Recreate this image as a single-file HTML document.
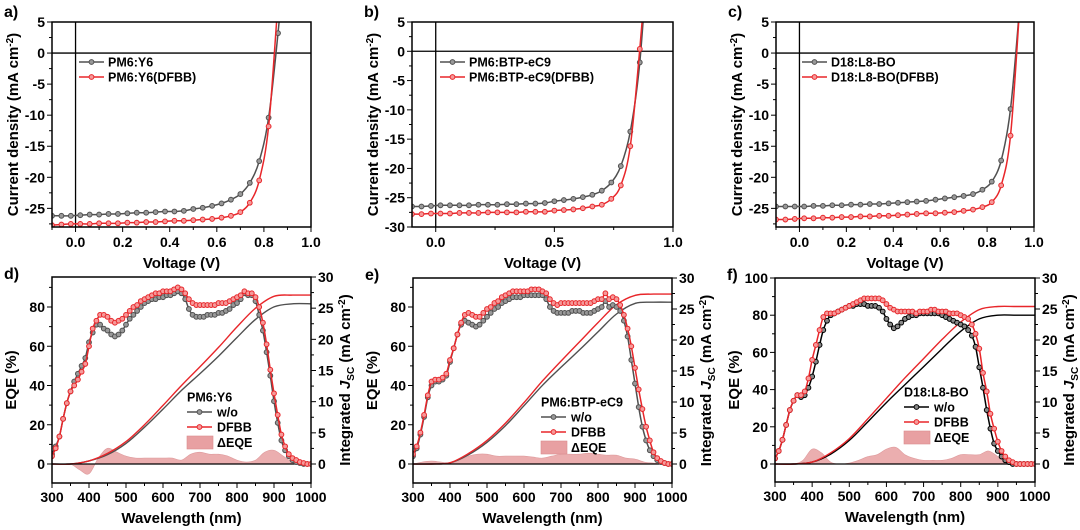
<!DOCTYPE html>
<html><head><meta charset="utf-8">
<style>
html,body{margin:0;padding:0;background:#fff;}
svg{display:block;font-family:"Liberation Sans",Arial,sans-serif;font-weight:bold;}
</style></head>
<body>
<svg id="fig" width="1080" height="530" viewBox="0 0 1080 530" xmlns="http://www.w3.org/2000/svg"></svg>
<script>
// ---------- JV data ----------
const jvV = [-0.1,-0.06,-0.02,0.02,0.06,0.10,0.14,0.18,0.22,0.26,0.30,0.34,0.38,0.42,0.46,0.50,0.54,0.58,0.62,0.66,0.70,0.74,0.78,0.82,0.86,0.90];
const jvV_c = [-0.1,-0.06,-0.02,0.02,0.06,0.10,0.14,0.18,0.22,0.26,0.30,0.34,0.38,0.42,0.46,0.50,0.54,0.58,0.62,0.66,0.70,0.74,0.78,0.82,0.86,0.90,0.94];
const jvA_ref = [-26.2,-26.2,-26.2,-26.1,-26.0,-26.0,-25.9,-25.9,-25.8,-25.7,-25.7,-25.6,-25.5,-25.5,-25.4,-25.1,-24.9,-24.6,-24.2,-23.6,-22.7,-20.9,-17.4,-10.4,3.2,20];
const jvA_dfbb = [-27.7,-27.6,-27.5,-27.5,-27.5,-27.4,-27.4,-27.4,-27.3,-27.3,-27.2,-27.2,-27.1,-27.0,-27.0,-26.9,-26.8,-26.7,-26.5,-26.2,-25.6,-24.1,-20.5,-11.8,8,25];
const jvB_ref = [-26.5,-26.5,-26.4,-26.3,-26.3,-26.3,-26.3,-26.2,-26.2,-26.2,-26.1,-26.1,-26.0,-26.0,-25.9,-25.6,-25.4,-25.2,-24.9,-24.5,-23.8,-22.4,-19.6,-13.7,-1.9,20];
const jvB_dfbb = [-27.8,-27.8,-27.7,-27.7,-27.7,-27.6,-27.6,-27.6,-27.5,-27.5,-27.5,-27.5,-27.4,-27.4,-27.4,-27.2,-27.1,-27.0,-26.8,-26.5,-26.2,-25.2,-22.9,-16.2,0.4,20];
const jvC_ref = [-24.7,-24.7,-24.7,-24.7,-24.6,-24.6,-24.5,-24.5,-24.4,-24.4,-24.3,-24.3,-24.2,-24.1,-24.0,-23.9,-23.8,-23.6,-23.4,-23.2,-23.0,-22.7,-22.0,-20.7,-17.3,-9.0,8];
const jvC_dfbb = [-26.8,-26.8,-26.7,-26.6,-26.6,-26.5,-26.5,-26.4,-26.4,-26.3,-26.3,-26.2,-26.2,-26.1,-26.0,-25.9,-25.8,-25.8,-25.7,-25.6,-25.4,-25.2,-24.8,-24.0,-21.3,-13.3,8];
// ---------- EQE data (300..1000 nm, 10 nm) ----------
const wl = [300,310,320,330,340,350,360,370,380,390,400,410,420,430,440,450,460,470,480,490,500,510,520,530,540,550,560,570,580,590,600,610,620,630,640,650,660,670,680,690,700,710,720,730,740,750,760,770,780,790,800,810,820,830,840,850,860,870,880,890,900,910,920,930,940,950,960,970,980,990,1000];
const eqeD_ref = [5,9,14,23,31,37,42,46,50,54,62,67,71,71,69,68,66,65,66,68,71,74,76,78,80,82,83,84,84,85,85,86,86,87,88,87,84,79,76,75,75,75,76,76,76,77,77,78,79,81,82,84,87,86,86,83,76,68,57,45,32,21,12,7,4,2,1,0.5,0,0,0];
const eqeD_dfbb = [4,8,14,23,31,37,40,43,47,51,60,69,73,76,76,75,73,72,73,74,76,78,80,81,83,84,85,86,87,87,88,88,88,89,90,89,87,84,82,81,81,81,81,81,81,82,82,82,83,84,85,86,88,87,87,85,80,72,61,48,36,25,15,9,5,3,2,1,0.5,0,0];
const eqeE_ref = [4,8,15,24,34,40,42,42,43,45,52,59,66,71,73,72,71,70,71,73,75,77,79,80,82,83,84,85,85,85,86,86,86,86,86,86,84,80,78,77,77,77,77,78,78,78,77,77,77,78,79,80,83,80,81,80,78,73,65,53,41,29,19,12,7,4,2,1,0.5,0,0];
const eqeE_dfbb = [5,9,16,25,35,42,43,43,44,46,53,59,66,72,76,77,76,75,75,77,79,80,82,83,85,86,87,88,88,88,88,88,89,89,89,88,87,84,82,81,82,82,82,82,82,82,82,82,82,83,84,84,87,84,85,84,81,76,69,60,49,38,28,19,12,6,3,1.5,0.5,0,0];
const eqeF_ref = [3,7,13,21,29,34,37,36,37,41,47,55,64,72,77,80,81,82,83,84,85,85,86,86,86,85,85,85,84,82,78,75,73,74,76,78,79,80,80,81,81,81,81,81,81,80,79,78,77,76,75,74,72,69,63,52,41,29,19,11,7,4,2,1,0,0,0,0,0,0,0];
const eqeF_dfbb = [3,7,13,21,29,34,37,37,39,46,56,64,72,79,81,81,81,82,83,84,85,86,87,88,89,89,89,89,89,88,86,84,83,82,82,82,82,82,81,82,82,82,83,83,82,82,82,81,81,81,80,79,78,75,70,62,49,39,27,19,12,7,4,2,1,0,0,0,0,0,0];
// integrated Jsc (50 nm)
const jscWl = [300,350,400,450,500,550,600,650,700,750,800,850,900,950,1000];
const jscD_ref = [0,0,0.5,1.5,3.3,5.9,8.8,11.8,14.5,17.3,20.3,23.2,25.2,25.7,25.7];
const jscD_dfbb = [0,0,0.5,1.7,3.6,6.3,9.4,12.6,15.6,18.7,22.0,25.0,26.9,27.1,27.1];
const jscE_ref = [0,0,0.2,1.5,3.5,6.2,9.4,12.7,15.6,18.4,21.3,24.2,25.9,26.1,26.1];
const jscE_dfbb = [0,0,0.2,1.7,3.8,6.6,9.9,13.4,16.6,19.7,22.8,25.7,27.2,27.4,27.4];
const jscF_ref = [0,0,0.3,1.6,3.8,6.8,9.9,12.8,15.7,18.6,21.4,23.4,24.0,24.0,24.0];
const jscF_dfbb = [0,0,0.3,1.8,4.1,7.3,10.6,13.9,17.0,20.1,22.9,24.9,25.4,25.4,25.4];
// delta EQE (25 nm)
const dWl = [300,325,350,375,400,425,450,475,500,525,550,575,600,625,650,675,700,725,750,775,800,825,850,875,900,925,950,975,1000];
const dEqeD = [0,0,0,-3,-5,3,8,6,4,3,3,3,3,3,2,5,6,5,5,4,2,1,2,6,7,4,1,0,0];
const dEqeE = [0,1,1.5,1,0.5,2,4,5,5,4,4,4,4,3.5,3,4,5,5,5,5.5,5,4.5,4.5,3,2.5,1,0.5,0,0];
const dEqeF = [0,0,0,2,8,6,1,0,0.5,2,4,5,8,9,5,3,2,2,2,3,5,5,5,7,4,1,0,0,0];

const NS="http://www.w3.org/2000/svg";
const svg=document.getElementById('fig');
function el(tag,attrs,parent){const e=document.createElementNS(NS,tag);for(const k in attrs)e.setAttribute(k,attrs[k]);(parent||svg).appendChild(e);return e;}
function txt(x,y,s,attrs,parent){const t=el('text',Object.assign({x:x,y:y},attrs||{}),parent);t.textContent=s;return t;}
function lin(d0,d1,r0,r1){return v=>r0+(v-d0)*(r1-r0)/(d1-d0);}
function smooth(pts){let d='M'+pts[0][0].toFixed(1)+','+pts[0][1].toFixed(1);
  for(let i=0;i<pts.length-1;i++){const p0=pts[i-1]||pts[i],p1=pts[i],p2=pts[i+1],p3=pts[i+2]||p2;
    const c1x=p1[0]+(p2[0]-p0[0])/6,c1y=p1[1]+(p2[1]-p0[1])/6,c2x=p2[0]-(p3[0]-p1[0])/6,c2y=p2[1]-(p3[1]-p1[1])/6;
    d+=' C'+c1x.toFixed(1)+','+c1y.toFixed(1)+' '+c2x.toFixed(1)+','+c2y.toFixed(1)+' '+p2[0].toFixed(1)+','+p2[1].toFixed(1);}
  return d;}
const GRAY='#505050', RED='#e8262a';
let clipN=0;
function series(g,xs,ys,sx,sy,color,fill,clip,name){
  const pts=xs.map((x,i)=>[sx(x),sy(ys[i])]);
  const sg=el('g',{'clip-path':'url(#'+clip+')'},g);
  
  
  el('path',{d:smooth(pts),fill:'none',stroke:color,'stroke-width':1.5},sg);
  pts.forEach(p=>{const c=el('circle',{cx:p[0],cy:p[1],r:2.4,fill:fill,stroke:color,'stroke-width':1},sg);
    
    });
}
function frame(g,L,R,T,B,clip){
  const cp=el('clipPath',{id:clip},g);el('rect',{x:L,y:T,width:R-L,height:B-T},cp);
}
function box(g,L,R,T,B){el('rect',{x:L,y:T,width:R-L,height:B-T,fill:'none',stroke:'#000','stroke-width':1.5},g);}

function jvPanel(o){
  const g=el('g',{});
  const sx=lin(-0.1,1.0,o.L,o.R), sy=lin(o.ymax,o.ymin,o.T,o.B);
  const clip='c'+(clipN++);frame(g,o.L,o.R,o.T,o.B,clip);
  el('line',{x1:sx(0),x2:sx(0),y1:o.T,y2:o.B,stroke:'#000','stroke-width':1.3},g);
  el('line',{x1:o.L,x2:o.R,y1:sy(0),y2:sy(0),stroke:'#000','stroke-width':1.3},g);
  series(g,o.V,o.ref,sx,sy,GRAY,'#999',clip,'series-reference');
  series(g,o.V,o.dfbb,sx,sy,RED,'#f59a9a',clip,'series-dfbb');
  box(g,o.L,o.R,o.T,o.B);
  for(let v=o.ymax;v>=o.ymin-0.01;v-=2.5){const y=sy(v);const major=Math.abs(v%5)<0.01;
    el('line',{x1:o.L,x2:o.L-(major?5:3),y1:y,y2:y,stroke:'#000','stroke-width':1},g);
    if(major){const t=txt(o.L-7,y+5,String(v),{'text-anchor':'end','font-size':14},g);}}
  o.xt.forEach(v=>{const x=sx(v);el('line',{x1:x,x2:x,y1:o.B,y2:o.B+5,stroke:'#000','stroke-width':1},g);
    const t=txt(x,o.B+20,v.toFixed(1),{'text-anchor':'middle','font-size':14},g);});
  o.xm.forEach(v=>{const x=sx(v);el('line',{x1:x,x2:x,y1:o.B,y2:o.B+3,stroke:'#000','stroke-width':1},g);});
  const xt=txt((o.L+o.R)/2,o.B+41,'Voltage (V)',{'text-anchor':'middle','font-size':15},g);
  const yt=txt(0,0,'Current density (mA cm',{'text-anchor':'middle','font-size':15,transform:'translate('+(o.L-34)+','+((o.T+o.B)/2)+') rotate(-90)'},g);
  const sup=el('tspan',{dy:-5,'font-size':10},yt);sup.textContent='-2';const cl=el('tspan',{dy:5},yt);cl.textContent=')';
  
  const lb=txt(o.L-48,17,o.label,{'font-size':16},g);
  const lg=el('g',{},g);
  [[o.leg[0],GRAY,'#999',62],[o.leg[1],RED,'#f59a9a',77]].forEach(r=>{
    el('line',{x1:o.lx,x2:o.lx+25,y1:r[3],y2:r[3],stroke:r[1],'stroke-width':1.5},lg);
    el('circle',{cx:o.lx+12.5,cy:r[3],r:2.4,fill:r[2],stroke:r[1],'stroke-width':1},lg);
    const t=txt(o.lx+29,r[3]+4.5,r[0],{'font-size':12.5},lg);});
}
function eqePanel(o){
  const g=el('g',{});
  const sx=lin(300,1000,o.L,o.R), sy=lin(0,80,o.Y0,o.Y0-o.k*80), sr=lin(0,30,o.Y0,o.T);
  const clip='c'+(clipN++);frame(g,o.L,o.R,o.T,o.B,clip);
  const ag=el('g',{'clip-path':'url(#'+clip+')'},g);
  const dp=dWl.map((w,i)=>[sx(w),sy(o.d[i])]);
  const area=el('path',{d:smooth(dp)+' L'+sx(1000)+','+sy(0)+' L'+sx(300)+','+sy(0)+' Z',fill:'#e8a0a2',stroke:'#d98a8c','stroke-width':0.6,opacity:0.85},ag);
  
  el('line',{x1:o.L,x2:o.R,y1:sy(0),y2:sy(0),stroke:'#000','stroke-width':1.3},g);
  const j1=el('path',{d:smooth(jscWl.map((w,i)=>[sx(w),sr(o.jr[i])])),fill:'none',stroke:o.refc,'stroke-width':1.4},ag);
  
  const j2=el('path',{d:smooth(jscWl.map((w,i)=>[sx(w),sr(o.jd[i])])),fill:'none',stroke:RED,'stroke-width':1.4},ag);
  
  series(g,wl,o.ref,sx,sy,o.refc,o.refc==='#000'?'#888':'#999',clip,'eqe-reference');
  series(g,wl,o.dfbb,sx,sy,RED,'#f59a9a',clip,'eqe-dfbb');
  box(g,o.L,o.R,o.T,o.B);
  for(let v=-10;v<=o.lmax;v+=10){const y=sy(v);if(y<o.T-0.5||y>o.B+0.5)continue;const major=v%20===0;
    el('line',{x1:o.L,x2:o.L-(major?5:3),y1:y,y2:y,stroke:'#000','stroke-width':1},g);
    if(major){const t=txt(o.L-7,y+5,String(v),{'text-anchor':'end','font-size':14},g);}}
  for(let v=0;v<=30;v+=2.5){const y=sr(v);const major=v%5===0;
    el('line',{x1:o.R,x2:o.R+(major?5:3),y1:y,y2:y,stroke:'#000','stroke-width':1},g);
    if(major){const t=txt(o.R+7,y+5,String(v),{'font-size':14},g);}}
  for(let v=300;v<=1000;v+=50){const x=sx(v);const major=v%100===0;
    el('line',{x1:x,x2:x,y1:o.B,y2:o.B+(major?5:3),stroke:'#000','stroke-width':1},g);
    if(major){const t=txt(x,o.B+19,String(v),{'text-anchor':'middle','font-size':14},g);}}
  const xt=txt((o.L+o.R)/2,o.B+40,'Wavelength (nm)',{'text-anchor':'middle','font-size':15},g);
  const yt=txt(0,0,'EQE (%)',{'text-anchor':'middle','font-size':15,transform:'translate('+(o.L-36)+','+((o.T+o.B)/2)+') rotate(-90)'},g);
  
  const rt=txt(0,0,'Integrated ',{'text-anchor':'middle','font-size':15,transform:'translate('+(o.R+39)+','+((o.T+o.B)/2)+') rotate(-90)'},g);
  let s=el('tspan',{'font-style':'italic'},rt);s.textContent='J';
  s=el('tspan',{dy:4,'font-size':10},rt);s.textContent='SC';
  s=el('tspan',{dy:-4},rt);s.textContent=' (mA cm';
  s=el('tspan',{dy:-5,'font-size':10},rt);s.textContent='-2';
  s=el('tspan',{dy:5},rt);s.textContent=')';
  
  const lb=txt(o.L-48,o.T+2,o.label,{'font-size':16},g);
  const lg=el('g',{},g);
  const tt=txt(o.lx,o.ly+4.5,o.title,{'font-size':12.5},lg);
  [['w/o',o.refc,o.refc==='#000'?'#888':'#999',o.ly+15],['DFBB',RED,'#f59a9a',o.ly+30]].forEach(r=>{
    el('line',{x1:o.lx,x2:o.lx+25,y1:r[3],y2:r[3],stroke:r[1],'stroke-width':1.5},lg);
    el('circle',{cx:o.lx+12.5,cy:r[3],r:2.4,fill:r[2],stroke:r[1],'stroke-width':1},lg);
    const t=txt(o.lx+30,r[3]+4.5,r[0],{'font-size':12.5},lg);});
  el('rect',{x:o.lx,y:o.ly+39,width:26,height:13,fill:'#e8a0a2',stroke:'#d98a8c','stroke-width':0.6},lg);
  const de=txt(o.lx+30,o.ly+50,'\u0394EQE',{'font-size':12.5},lg);
}
jvPanel({name:'panel-a',label:'a)',L:52,R:311,T:22,B:227,ymax:5,ymin:-28,V:jvV,ref:jvA_ref,dfbb:jvA_dfbb,
  xt:[0,0.2,0.4,0.6,0.8,1.0],xm:[-0.1,0.1,0.3,0.5,0.7,0.9],leg:['PM6:Y6','PM6:Y6(DFBB)'],lx:79});
jvPanel({name:'panel-b',label:'b)',L:412,R:673,T:22,B:227,ymax:5,ymin:-30,V:jvV,ref:jvB_ref,dfbb:jvB_dfbb,
  xt:[0,0.5,1.0],xm:[0.25,0.75],leg:['PM6:BTP-eC9','PM6:BTP-eC9(DFBB)'],lx:440});
jvPanel({name:'panel-c',label:'c)',L:776,R:1034,T:22,B:227,ymax:5,ymin:-28,V:jvV_c,ref:jvC_ref,dfbb:jvC_dfbb,
  xt:[0,0.2,0.4,0.6,0.8,1.0],xm:[-0.1,0.1,0.3,0.5,0.7,0.9],leg:['D18:L8-BO','D18:L8-BO(DFBB)'],lx:802});
eqePanel({name:'panel-d',label:'d)',L:52,R:311,T:277,B:483,Y0:464,k:157/80,lmax:90,ref:eqeD_ref,dfbb:eqeD_dfbb,jr:jscD_ref,jd:jscD_dfbb,d:dEqeD,refc:GRAY,title:'PM6:Y6',lx:187,ly:397});
eqePanel({name:'panel-e',label:'e)',L:413,R:672,T:278,B:483,Y0:464,k:157/80,lmax:90,ref:eqeE_ref,dfbb:eqeE_dfbb,jr:jscE_ref,jd:jscE_dfbb,d:dEqeE,refc:GRAY,title:'PM6:BTP-eC9',lx:541,ly:402});
eqePanel({name:'panel-f',label:'f)',L:775,R:1035,T:278,B:482,Y0:464,k:186/100,lmax:100,ref:eqeF_ref,dfbb:eqeF_dfbb,jr:jscF_ref,jd:jscF_dfbb,d:dEqeF,refc:'#000',title:'D18:L8-BO',lx:904,ly:392});
</script>
</body></html>
